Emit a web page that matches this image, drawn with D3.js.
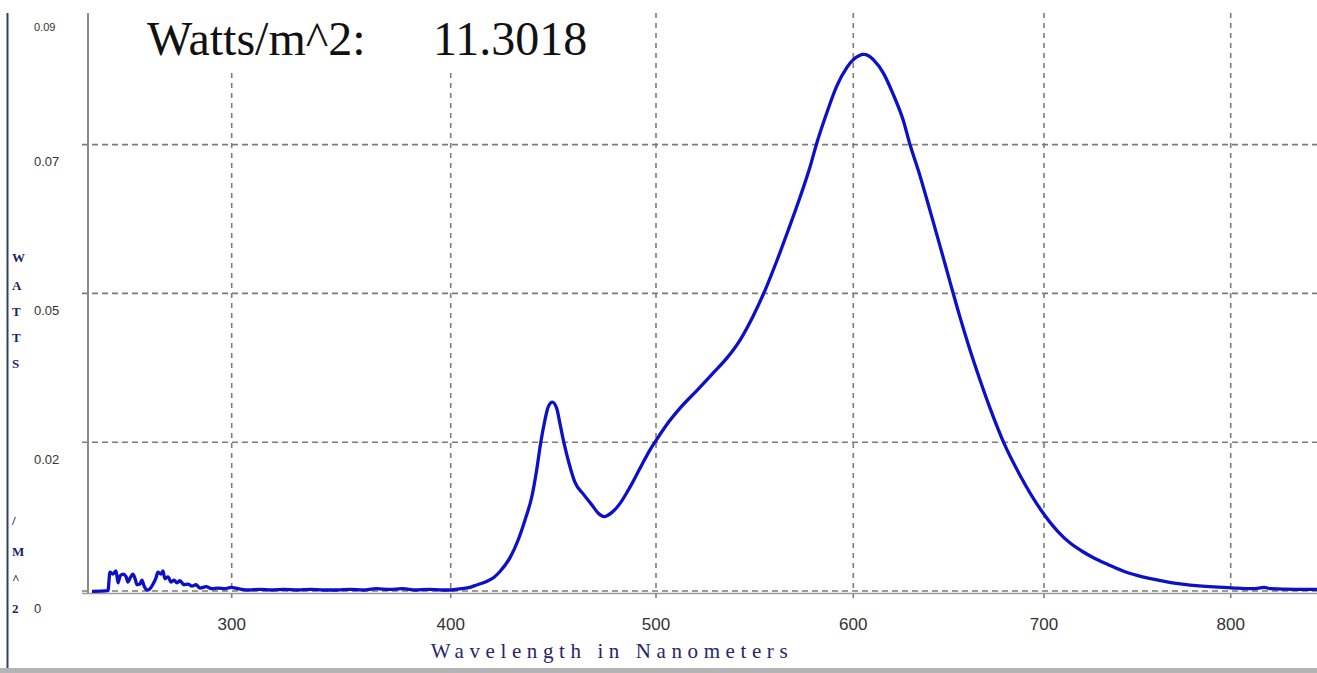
<!DOCTYPE html>
<html>
<head>
<meta charset="utf-8">
<script src="https://cdn.jsdelivr.net/npm/d3@7"></script>
<style>
  body { margin: 0; background: #fff; }
  svg { display: block; }
</style>
</head>
<body>
<div id="chart"></div>
<script>
// spectrum
const wavelength = [
  236.2, 243.5, 244.4, 245.8, 247.2, 248.1, 249.0, 250.4, 251.8, 252.6,
  253.6, 254.9, 255.8, 256.8, 258.1, 259.0, 260.0, 261.3, 262.7, 264.1,
  265.4, 266.3, 267.7, 268.6, 269.5, 270.9, 272.3, 273.7, 275.0, 276.4,
  278.2, 280.0, 281.9, 283.7, 285.5, 288.3, 291.0, 293.7, 296.9, 299.7,
  303, 308, 313, 318, 324, 330, 336, 342, 348, 354,
  360, 366, 372, 378, 384, 390, 396, 400, 405, 409.4,
  413, 417.5, 421, 424, 428.9, 432.9, 436.2, 439.5, 441.9, 443.8,
  445.9, 447.5, 449.5, 451.6, 453.2, 455.2, 457.6, 460.5, 464.6, 468.7,
  471.9, 474.7, 478.4, 482.5, 487.4, 492.2, 497.1, 500, 505.4, 512.2,
  520.8, 528.9, 536.0, 542.6, 549.2, 555.8, 561.4, 567.0, 573.0, 578.1,
  581.5, 586.5, 591.6, 596.7, 600, 603, 605.2, 608, 610.5, 615.7,
  621, 626.1, 629.7, 635.0, 640.2, 645.5, 650.7, 655.9, 661.2, 666.4,
  671.7, 679.0, 687.9, 698.4, 707.6, 714, 720.2, 727, 734.7, 743,
  752.7, 761, 770.7, 788.8, 803.2, 812, 818, 821.2, 835, 846.2
];
const watts = [
  0.0001, 0.0002, 0.0030, 0.0027, 0.0032, 0.0014, 0.0024, 0.0027, 0.0023, 0.0015,
  0.0021, 0.0027, 0.0021, 0.0011, 0.0012, 0.0018, 0.0009, 0.0003, 0.0005, 0.0012,
  0.0021, 0.0030, 0.0027, 0.0032, 0.0020, 0.0023, 0.0015, 0.0018, 0.0014, 0.0017,
  0.0011, 0.0012, 0.0009, 0.0011, 0.0006, 0.0008, 0.0005, 0.0006, 0.0005, 0.0007,
  0.0005, 0.0003, 0.0004, 0.0003, 0.0004, 0.0003, 0.0004, 0.0003, 0.0003, 0.0004,
  0.0003, 0.0005, 0.0004, 0.0005, 0.0003, 0.0004, 0.0003, 0.0003, 0.0005, 0.0007,
  0.0011, 0.0016, 0.0022, 0.0031, 0.0052, 0.0079, 0.0109, 0.0144, 0.0185, 0.0225,
  0.0260, 0.0280, 0.0287, 0.0278, 0.0255, 0.0225, 0.0195, 0.0166, 0.0148, 0.0132,
  0.0119, 0.0114, 0.0120, 0.0134, 0.0159, 0.0187, 0.0215, 0.0229, 0.0253, 0.0278,
  0.0305, 0.0331, 0.0354, 0.0381, 0.0417, 0.0460, 0.0502, 0.0547, 0.0597, 0.0643,
  0.0679, 0.0724, 0.0765, 0.0793, 0.0805, 0.0811, 0.0813, 0.0811, 0.0805, 0.0785,
  0.0752, 0.0714, 0.0677, 0.0629, 0.0577, 0.0523, 0.0469, 0.0416, 0.0366, 0.0321,
  0.0278, 0.0225, 0.0174, 0.0124, 0.0091, 0.0074, 0.0062, 0.0051, 0.0041, 0.0031,
  0.0023, 0.0018, 0.0013, 0.0008, 0.0006, 0.0005, 0.0007, 0.0005, 0.0004, 0.0004
];

const xTicks = [300, 400, 500, 600, 700, 800];
const yTicks = [0, 0.0225, 0.045, 0.0675, 0.09];
const yTickLabels = ["0", "0.02", "0.05", "0.07", "0.09"];
const totalWatts = "11.3018";
const yAxisLetters = ["W", "A", "T", "T", "S", "/", "M", "^", "2"];

const width = 1317;
const height = 673;

// the instrument's wavelength axis is not linear in pixels
const x = d3.scaleLinear()
  .domain(xTicks)
  .range([231.7, 450.7, 656, 853.3, 1044, 1230.7]);

const y = d3.scaleLinear()
  .domain([0, 0.09])
  .range([592, -3.2]);

const plotLeft = 88;
const plotTop = 13;

const svg = d3.select("#chart").append("svg")
  .attr("width", width)
  .attr("height", height);

svg.append("rect").attr("width", width).attr("height", height).attr("fill", "#fff");

// grid
svg.append("g")
  .attr("stroke", "#7c7c7c")
  .attr("stroke-width", 1.6)
  .attr("stroke-dasharray", "6,4")
  .selectAll("line")
  .data(yTicks.filter(d => y(d) > plotTop))
  .join("line")
  .attr("x1", plotLeft - 6)
  .attr("x2", width)
  .attr("y1", d => y(d) - 1)
  .attr("y2", d => y(d) - 1);

svg.append("g")
  .attr("stroke", "#7c7c7c")
  .attr("stroke-width", 1.6)
  .attr("stroke-dasharray", "5,5")
  .selectAll("line")
  .data(xTicks)
  .join("line")
  .attr("x1", d => x(d))
  .attr("x2", d => x(d))
  .attr("y1", plotTop)
  .attr("y2", y(0) + 9);

// white box behind the total reading
svg.append("rect")
  .attr("x", 138).attr("y", 0)
  .attr("width", 462).attr("height", 68)
  .attr("fill", "#fff");

// axes and window frame
svg.append("line")
  .attr("x1", plotLeft).attr("x2", plotLeft)
  .attr("y1", plotTop).attr("y2", y(0) + 2)
  .attr("stroke", "#8a8a8a").attr("stroke-width", 2);

svg.append("line")
  .attr("x1", plotLeft - 6).attr("x2", width)
  .attr("y1", y(0) + 1.5).attr("y2", y(0) + 1.5)
  .attr("stroke", "#9a9a9a").attr("stroke-width", 1.5);

svg.append("line")
  .attr("x1", 7.5).attr("x2", 7.5)
  .attr("y1", plotTop).attr("y2", 670)
  .attr("stroke", "#33415c").attr("stroke-width", 2);

svg.append("rect")
  .attr("x", 0).attr("y", 668)
  .attr("width", width).attr("height", 5)
  .attr("fill", "#b4b4b4");

// spectrum
const line = d3.line()
  .x(i => x(wavelength[i]))
  .y(i => y(watts[i]))
  .curve(d3.curveMonotoneX);

svg.append("path")
  .datum(d3.range(wavelength.length))
  .attr("fill", "none")
  .attr("stroke", "#0c10c8")
  .attr("stroke-width", 3.3)
  .attr("stroke-linejoin", "round")
  .attr("d", line);

// tick labels
svg.append("g")
  .attr("font-family", "'Liberation Sans', Arial, sans-serif")
  .attr("fill", "#333")
  .selectAll("text")
  .data(yTicks)
  .join("text")
  .attr("x", 34)
  .attr("y", d => Math.max(y(d) + 16, 27))
  .attr("dy", "0.35em")
  .attr("font-size", d => d === 0.09 ? 11 : 13)
  .text((d, i) => yTickLabels[i]);

svg.append("g")
  .attr("font-family", "'Liberation Sans', Arial, sans-serif")
  .attr("font-size", 17)
  .attr("fill", "#333")
  .attr("text-anchor", "middle")
  .selectAll("text")
  .data(xTicks)
  .join("text")
  .attr("x", d => x(d))
  .attr("y", 630)
  .text(d => d);

// axis titles
svg.append("text")
  .attr("x", 612)
  .attr("y", 658)
  .attr("text-anchor", "middle")
  .attr("font-family", "'Liberation Serif', 'Times New Roman', serif")
  .attr("font-size", 21)
  .attr("letter-spacing", "5.6px")
  .attr("fill", "#25256e")
  .text("Wavelength in Nanometers");

const letterY = [257, 285, 311, 337, 363, 520, 551, 578, 608];
svg.append("g")
  .attr("font-family", "'Liberation Serif', 'Times New Roman', serif")
  .attr("font-size", 13)
  .attr("font-weight", "bold")
  .attr("fill", "#1e1e6a")
  .selectAll("text")
  .data(yAxisLetters)
  .join("text")
  .attr("x", 12)
  .attr("y", (d, i) => letterY[i])
  .attr("dy", "0.35em")
  .text(d => d);

// total power readout
const title = svg.append("text")
  .attr("y", 55)
  .attr("font-family", "'Liberation Serif', 'Times New Roman', serif")
  .attr("font-size", 48)
  .attr("fill", "#111");
title.append("tspan").attr("x", 147).text("Watts/m^2:");
title.append("tspan").attr("x", 433).text(totalWatts);
</script>
</body>
</html>
